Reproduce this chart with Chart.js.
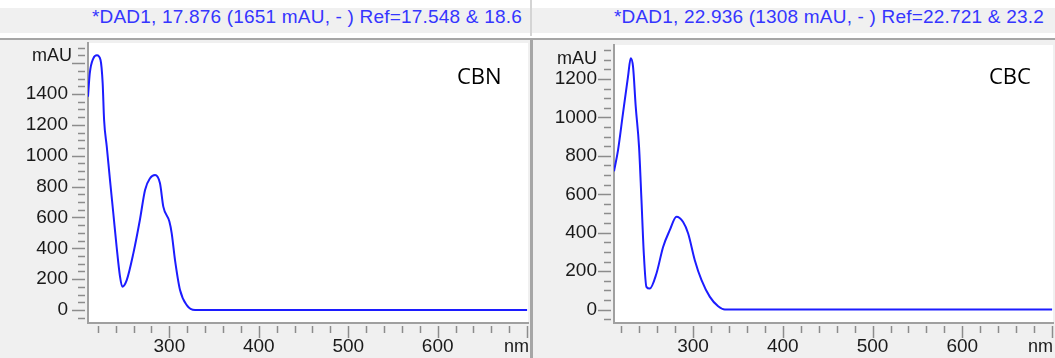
<!DOCTYPE html>
<html>
<head>
<meta charset="utf-8">
<script src="https://cdn.jsdelivr.net/npm/chart.js@4"></script>
<style>
    body { margin: 0; width: 1055px; height: 358px; background: #fff; position: relative; overflow: hidden; font-family: "Liberation Sans", Arial, sans-serif; }
    .band { position: absolute; top: 8px; height: 25px; background: #f0f0f0; }
    .title { position: absolute; top: 6px; height: 22px; line-height: 22px; font-size: 19px; letter-spacing: 0.2px; color: #3535ff; white-space: nowrap; overflow: hidden; text-align: right; }
    .topline { position: absolute; left: 0; top: 38px; width: 1055px; height: 2px; background: #a6a6a6; }
    .panel { position: absolute; top: 40px; height: 318px; background: #f0f0f0; }
    .panel canvas { position: absolute; left: 0; top: 0; }
    .unit { position: absolute; font-size: 18px; color: #1a1a1a; line-height: 20px; white-space: nowrap; }
    .name { position: absolute; font-size: 22px; color: #000; line-height: 26px; font-family: "Open Sans", "Liberation Sans", sans-serif; }
</style>
</head>
<body>
<div class="band" style="left:0;width:530px"></div>
<div class="band" style="left:532px;width:523px"></div>
<div style="position:absolute;left:530px;top:0;width:2px;height:36px;background:#d4d4d4"></div>
<div class="title" style="left:0;width:522px">*DAD1, 17.876 (1651 mAU, - ) Ref=17.548 &amp; 18.6</div>
<div class="title" style="left:540px;width:504px">*DAD1, 22.936 (1308 mAU, - ) Ref=22.721 &amp; 23.2</div>
<div class="topline"></div>

<div class="panel" style="left:0;width:530px"><canvas id="cbnChart" width="530" height="318"></canvas></div>
<div style="position:absolute;left:530px;top:40px;width:3px;height:318px;background:#a6a6a6"></div>
<div class="panel" style="left:533px;width:522px"><canvas id="cbcChart" width="522" height="318"></canvas></div>

<div class="unit" style="left:32px;top:45px">mAU</div>
<div class="unit" style="left:557px;top:48px">mAU</div>
<div class="unit" style="left:504px;top:336px">nm</div>
<div class="unit" style="left:1028px;top:336px">nm</div>
<div class="name" style="left:457px;top:62px">CBN</div>
<div class="name" style="left:989px;top:62px">CBC</div>

<script>
// CBN 스펙트럼 (nm, mAU)
const cbnWavelength = [209, 211, 215, 219, 223, 225.4, 227, 230, 233.6, 237.3, 241, 244.8, 247.4, 252.3, 259.7, 267, 272.8, 278.4, 284, 289.5, 293.2, 300, 302.6, 306.3, 311.9, 319.4, 328.7, 340, 700];
const cbnAbs = [1382, 1534, 1631, 1651, 1620, 1469, 1231, 1058, 842, 627, 410, 216, 151, 194, 367, 583, 778, 854, 875, 821, 670, 573, 497, 324, 130, 32, 0, 0, 0];

// CBC 스펙트럼 (nm, mAU)
const cbcWavelength = [212, 216.5, 222, 227.6, 230.6, 233.2, 236.2, 239.9, 242.6, 245.2, 248.1, 251.8, 259.3, 266.7, 274.1, 281.6, 289, 294.6, 302, 309.5, 318.8, 328, 335.5, 345, 700];
const cbcAbs = [720, 830, 1021, 1212, 1308, 1264, 1056, 847, 570, 292, 118, 109, 188, 326, 413, 483, 456, 396, 257, 153, 66, 17, 0, 0, 0];

// 축 범위 / 눈금 라벨
const cbnXRange = [209, 701];
const cbnYRange = [-84, 1730];
const cbnYLabels = [0, 200, 400, 600, 800, 1000, 1200, 1400];
const cbcXRange = [212, 701];
const cbcYRange = [-70, 1377];
const cbcYLabels = [0, 200, 400, 600, 800, 1000, 1200];
const xLabels = [300, 400, 500, 600];

const tickFont = { family: '"Liberation Sans", Arial, sans-serif', size: 19 };

// 흰색 플롯 영역 + 작은 눈금
const plotArea = {
    id: 'plotArea',
    beforeDraw(chart) {
        const a = chart.chartArea, ctx = chart.ctx;
        ctx.save();
        ctx.fillStyle = '#ffffff';
        ctx.fillRect(a.left, a.top, a.right - a.left, a.bottom - a.top);
        ctx.restore();
    },
    afterDraw(chart) {
        const a = chart.chartArea, ctx = chart.ctx;
        const xs = chart.scales.x, ys = chart.scales.y;
        ctx.save();
        ctx.strokeStyle = '#8c8c8c';
        ctx.lineWidth = 1.5;
        ctx.beginPath();
        for (let v = Math.ceil(ys.min / 50) * 50; v <= ys.max; v += 50) {
            const y = Math.round(ys.getPixelForValue(v)) + 0.5;
            const len = v % 200 === 0 ? 13 : 7;
            ctx.moveTo(a.left - 3 - len, y);
            ctx.lineTo(a.left - 3, y);
        }
        for (let v = Math.ceil(xs.min / 20) * 20; v <= xs.max; v += 20) {
            const x = Math.round(xs.getPixelForValue(v)) + 0.5;
            const len = v % 100 === 0 ? 12 : 7;
            ctx.moveTo(x, a.bottom + 3);
            ctx.lineTo(x, a.bottom + 3 + len);
        }
        ctx.stroke();
        ctx.restore();
    }
};

function makeChart(id, wl, abs, xRange, yRange, yLabels, yWidth, topPad, yPad) {
    return new Chart(document.getElementById(id), {
        type: 'line',
        data: {
            datasets: [{
                data: wl.map((w, i) => ({ x: w, y: abs[i] })),
                borderColor: '#1c1cff',
                borderWidth: 2,
                pointRadius: 0,
                cubicInterpolationMode: 'monotone',
                fill: false
            }]
        },
        options: {
            responsive: false,
            animation: false,
            layout: { padding: { top: topPad, right: 2, left: 0, bottom: 0 } },
            plugins: { legend: { display: false }, tooltip: { enabled: false } },
            scales: {
                x: {
                    type: 'linear',
                    min: xRange[0],
                    max: xRange[1],
                    grid: { display: false, drawTicks: false },
                    border: { display: true, color: '#a0a0a0', width: 2 },
                    ticks: {
                        autoSkip: false,
                        maxRotation: 0,
                        padding: 12,
                        color: '#1a1a1a',
                        font: tickFont,
                        callback: v => String(v)
                    },
                    afterBuildTicks: s => { s.ticks = xLabels.map(v => ({ value: v })); },
                    afterFit: s => { s.height = 35; s.paddingLeft = 0; s.paddingRight = 0; }
                },
                y: {
                    type: 'linear',
                    min: yRange[0],
                    max: yRange[1],
                    grid: { display: false, drawTicks: false },
                    border: { display: true, color: '#a0a0a0', width: 2 },
                    ticks: {
                        autoSkip: false,
                        padding: yPad,
                        color: '#1a1a1a',
                        font: tickFont,
                        callback: v => String(v)
                    },
                    afterBuildTicks: s => { s.ticks = yLabels.map(v => ({ value: v })); },
                    afterFit: s => { s.width = yWidth; s.paddingTop = 0; s.paddingBottom = 0; }
                }
            }
        },
        plugins: [plotArea]
    });
}

makeChart('cbnChart', cbnWavelength, cbnAbs, cbnXRange, cbnYRange, cbnYLabels, 88, 3, 20);
makeChart('cbcChart', cbcWavelength, cbcAbs, cbcXRange, cbcYRange, cbcYLabels, 81, 5, 17);
</script>
</body>
</html>
